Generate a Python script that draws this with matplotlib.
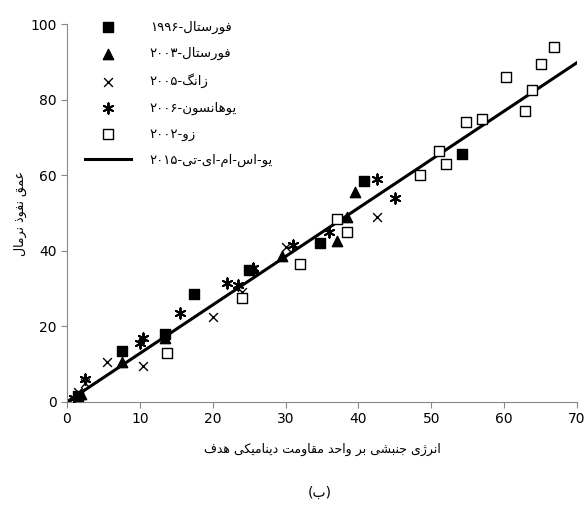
import matplotlib
matplotlib.use("Agg")
import matplotlib.pyplot as plt
import numpy as np

# --- data ---
forrestal_1996_x = [1.5, 7.5, 13.5, 17.5, 25.0, 34.7, 40.7, 54.2]
forrestal_1996_y = [1.5, 13.5, 18.0, 28.5, 35.0, 42.0, 58.5, 65.5]
forrestal_2003_x = [2.0, 7.5, 13.5, 25.5, 29.5, 37.0, 38.5, 39.5]
forrestal_2003_y = [2.0, 10.5, 17.0, 35.5, 38.5, 42.5, 49.0, 55.5]
zhang_2005_x = [1.5, 2.5, 5.5, 10.5, 20.0, 24.0, 30.0, 42.5]
zhang_2005_y = [2.5, 5.0, 10.5, 9.5, 22.5, 29.0, 41.0, 49.0]
johnson_2006_x = [1.0, 2.5, 10.0, 10.5, 15.5, 22.0, 23.5, 25.5, 31.0, 36.0, 42.5, 45.0]
johnson_2006_y = [1.0, 6.0, 15.5, 17.0, 23.5, 31.5, 31.0, 35.5, 41.5, 45.0, 59.0, 54.0]
zoo_2002_x = [13.8, 24.0, 32.0, 37.0, 38.5, 48.5, 51.0, 52.0, 54.7, 57.0, 60.2, 62.8, 63.8, 65.0, 66.8]
zoo_2002_y = [13.0, 27.5, 36.5, 48.5, 45.0, 60.0, 66.5, 63.0, 74.0, 75.0, 86.0, 77.0, 82.5, 89.5, 94.0]
fit_x = [0, 70]
fit_y = [0, 89.8]

# --- minimal Persian shaping (presentation forms) ---
FORMS = {  # iso, fin, ini, med (None => right-joining only)
    'ا': ('\uFE8D', '\uFE8E', None, None), 'ب': ('\uFE8F', '\uFE90', '\uFE91', '\uFE92'),
    'ت': ('\uFE95', '\uFE96', '\uFE97', '\uFE98'), 'ج': ('\uFE9D', '\uFE9E', '\uFE9F', '\uFEA0'),
    'ح': ('\uFEA1', '\uFEA2', '\uFEA3', '\uFEA4'), 'د': ('\uFEA9', '\uFEAA', None, None),
    'ذ': ('\uFEAB', '\uFEAC', None, None), 'ر': ('\uFEAD', '\uFEAE', None, None),
    'ز': ('\uFEAF', '\uFEB0', None, None), 'ژ': ('\uFB8A', '\uFB8B', None, None),
    'س': ('\uFEB1', '\uFEB2', '\uFEB3', '\uFEB4'), 'ش': ('\uFEB5', '\uFEB6', '\uFEB7', '\uFEB8'),
    'ع': ('\uFEC9', '\uFECA', '\uFECB', '\uFECC'), 'ف': ('\uFED1', '\uFED2', '\uFED3', '\uFED4'),
    'ق': ('\uFED5', '\uFED6', '\uFED7', '\uFED8'), 'ک': ('\uFB8E', '\uFB8F', '\uFB90', '\uFB91'),
    'گ': ('\uFB92', '\uFB93', '\uFB94', '\uFB95'), 'ل': ('\uFEDD', '\uFEDE', '\uFEDF', '\uFEE0'),
    'م': ('\uFEE1', '\uFEE2', '\uFEE3', '\uFEE4'), 'ن': ('\uFEE5', '\uFEE6', '\uFEE7', '\uFEE8'),
    'ه': ('\uFEE9', '\uFEEA', '\uFEEB', '\uFEEC'), 'و': ('\uFEED', '\uFEEE', None, None),
    'ی': ('\uFBFC', '\uFBFD', '\uFBFE', '\uFBFF'),
}
DIGITS = set('۰۱۲۳۴۵۶۷۸۹0123456789')
MIRROR = {'(': ')', ')': '('}


def shape(s):
    out = []
    for i, c in enumerate(s):
        if c not in FORMS:
            out.append(c)
            continue
        prev = s[i - 1] if i > 0 else ''
        nxt = s[i + 1] if i + 1 < len(s) else ''
        jp = prev in FORMS and FORMS[prev][2] is not None
        jn = FORMS[c][2] is not None and nxt in FORMS
        f = FORMS[c]
        out.append(f[3] if jp and jn else f[1] if jp else f[2] if jn else f[0])
    return ''.join(out)


def rtl(s):
    s = shape(s)
    runs, cur, isd = [], '', None
    for c in s:
        d = c in DIGITS
        if cur and d != isd:
            runs.append((cur, isd))
            cur = ''
        cur += c
        isd = d
    if cur:
        runs.append((cur, isd))
    res = ''
    for r, d in reversed(runs):
        res += r if d else ''.join(MIRROR.get(c, c) for c in reversed(r))
    return res


plt.rcParams['font.family'] = ['DejaVu Sans']
fig = plt.figure(figsize=(5.87, 5.12), dpi=100)
ax = fig.add_axes([0.114, 0.215, 0.869, 0.738])

ax.scatter(forrestal_1996_x, forrestal_1996_y, marker='s', s=55, c='black', label=rtl('فورستال-۱۹۹۶'), zorder=3)
ax.scatter(forrestal_2003_x, forrestal_2003_y, marker='^', s=55, c='black', label=rtl('فورستال-۲۰۰۳'), zorder=3)
ax.scatter(zhang_2005_x, zhang_2005_y, marker='x', s=40, c='black', linewidths=1.0, label=rtl('زانگ-۲۰۰۵'), zorder=3)
ax.scatter(johnson_2006_x, johnson_2006_y, marker=(6, 2, 0), s=55, c='black', linewidths=1.4, label=rtl('یوهانسون-۲۰۰۶'), zorder=3)
ax.scatter(zoo_2002_x, zoo_2002_y, marker='s', s=55, facecolors='white', edgecolors='black', linewidths=1.0, label=rtl('زو-۲۰۰۲'), zorder=3)
ax.plot(fit_x, fit_y, color='black', lw=2.2, label=rtl('یو-اس-ام-ای-تی-۲۰۱۵'), zorder=2)

ax.set_xlim(0, 70)
ax.set_ylim(0, 100)
ax.set_xticks(range(0, 71, 10))
ax.set_yticks(range(0, 101, 20))
for sp in ['top', 'right']:
    ax.spines[sp].set_visible(False)
for sp in ['left', 'bottom']:
    ax.spines[sp].set_color('#888888')
ax.tick_params(colors='#888888', labelcolor='black', labelsize=10, length=4)

ax.legend(loc='upper left', bbox_to_anchor=(0.02, 1.03), frameon=False, fontsize=9.5,
          handlelength=3.5, handletextpad=1.4, labelspacing=1.0, borderaxespad=0.2)

ax.set_xlabel(rtl('انرژی جنبشی بر واحد مقاومت دینامیکی هدف'), fontsize=9, labelpad=12)
ax.set_ylabel(rtl('عمق نفوذ نرمال'), fontsize=9, labelpad=2)
fig.text(0.545, 0.03, rtl('(ب)'), ha='center', fontsize=10)

fig.savefig('out.png', dpi=100)
